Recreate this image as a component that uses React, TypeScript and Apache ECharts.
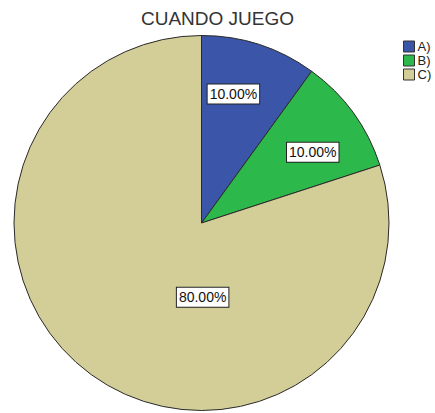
import React, { useEffect, useRef } from "react";
import * as echarts from "echarts";

const categories = ["A)", "B)", "C)"];
const values = [10, 10, 80];
const colors = ["#3b55a8", "#2cb84a", "#d3ce98"];
const titleText = "CUANDO JUEGO";

export default function App() {
  const ref = useRef<HTMLDivElement>(null);
  useEffect(() => {
    if (!ref.current) return;
    const chart = echarts.init(ref.current, null, { renderer: "svg" });
    const offsets = [
      [2, -37],
      [33, -14],
      [58, -4],
    ];
    chart.setOption({
      animation: false,
      backgroundColor: "#ffffff",
      title: {
        text: titleText,
        left: 141,
        top: 9,
        padding: 0,
        textStyle: {
          fontFamily: "Liberation Sans, Arial, sans-serif",
          fontSize: 19,
          fontWeight: "normal",
          color: "#333",
        },
      },
      legend: {
        orient: "vertical",
        left: 403,
        top: 40,
        padding: 0,
        itemWidth: 11,
        itemHeight: 11,
        itemGap: 1,
        icon: "rect",
        selectedMode: false,
        itemStyle: { borderColor: "#333", borderWidth: 1 },
        textStyle: {
          fontFamily: "Liberation Sans, Arial, sans-serif",
          fontSize: 13,
          lineHeight: 12,
          color: "#222",
          padding: [0, 0, 0, -2],
        },
        data: categories,
      },
      series: [
        {
          type: "pie",
          center: [201.5, 223],
          radius: [0, 187.5],
          startAngle: 90,
          clockwise: true,
          silent: true,
          itemStyle: { borderColor: "#2a2a2a", borderWidth: 1 },
          label: {
            show: true,
            position: "inside",
            formatter: (p: any) => p.value.toFixed(2) + "%",
            fontFamily: "Liberation Sans, Arial, sans-serif",
            fontSize: 14,
            lineHeight: 14,
            color: "#111",
            backgroundColor: "#ffffff",
            borderColor: "#222",
            borderWidth: 1,
            padding: [3, 2, 2, 2],
          },
          labelLine: { show: false },
          data: categories.map((c, i) => ({
            name: c,
            value: values[i],
            itemStyle: { color: colors[i] },
            label: { offset: offsets[i] },
          })),
        },
      ],
    });
    return () => chart.dispose();
  }, []);
  return (
    <div
      ref={ref}
      style={{ position: "fixed", left: 0, top: 0, width: 435, height: 413 }}
    />
  );
}
